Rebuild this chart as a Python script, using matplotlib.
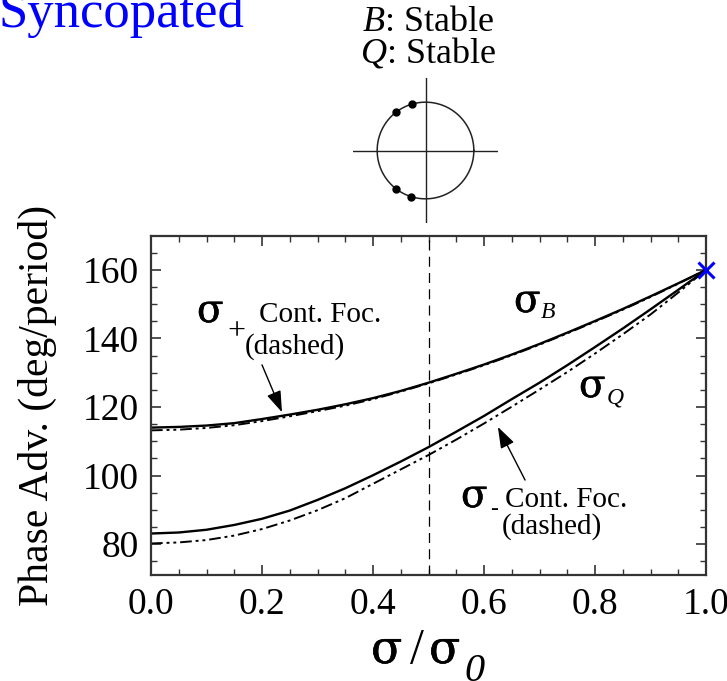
import numpy as np
import matplotlib
matplotlib.use("Agg")
import matplotlib.pyplot as plt
import matplotlib.patheffects as pe

plt.rcParams['font.family'] = ['Liberation Serif', 'DejaVu Serif']
plt.rcParams['mathtext.fontset'] = 'custom'
plt.rcParams['mathtext.rm'] = 'Liberation Serif'
plt.rcParams['mathtext.it'] = 'Liberation Serif:italic'
plt.rcParams['mathtext.bf'] = 'Liberation Serif:bold'

# ---- data ----
x_vals = [0.0, 0.05, 0.1, 0.15, 0.2, 0.25, 0.3, 0.35, 0.4, 0.45, 0.5,
          0.55, 0.6, 0.65, 0.7, 0.75, 0.8, 0.85, 0.9, 0.95, 1.0]
sigma_B = [114.0, 114.2, 114.6, 115.3, 116.5, 117.8, 119.2, 120.8, 122.6, 124.7, 127.1,
           129.7, 132.4, 135.3, 138.4, 141.7, 145.1, 148.6, 152.3, 156.1, 160.0]
sigma_plus_cf = [113.2, 113.4, 113.9, 114.7, 115.9, 117.3, 118.8, 120.4, 122.3, 124.5, 126.9,
                 129.5, 132.2, 135.1, 138.2, 141.5, 144.9, 148.4, 152.1, 156.0, 160.0]
sigma_Q = [83.1, 83.4, 84.2, 85.6, 87.4, 89.8, 92.9, 96.3, 100.1, 104.1, 108.3,
           112.8, 117.4, 122.3, 127.1, 132.2, 137.5, 142.9, 148.5, 154.2, 160.0]
sigma_minus_cf = [80.2, 80.5, 81.2, 82.5, 84.4, 86.9, 89.9, 93.4, 97.6, 101.8, 106.0,
                  110.5, 115.2, 120.1, 125.1, 130.2, 135.6, 141.2, 147.0, 153.4, 160.0]
endpoint = (1.0, 160.0)
vline_x = 0.5
eig_angles_deg = [106, 127, -127, -107]
x_ticks = [0.0, 0.2, 0.4, 0.6, 0.8, 1.0]
y_ticks = [80, 100, 120, 140, 160]

W, H = 727, 681
fig = plt.figure(figsize=(W / 100, H / 100), dpi=100)

def fx(px):
    return px / W

def fy(py):
    return 1 - py / H

# main axes
L, R, T, B = 151, 706, 236, 575
ax = fig.add_axes([fx(L), fy(B), fx(R) - fx(L), fy(T) - fy(B)])
ax.set_xlim(0, 1)
ax.set_ylim(71, 169.9)

dashstyle = (0, (6, 2, 1.5, 2, 1.5, 2))
ax.plot(x_vals, sigma_plus_cf, color='black', lw=1.4, ls=dashstyle)
ax.plot(x_vals, sigma_minus_cf, color='black', lw=1.4, ls=dashstyle)
ax.plot(x_vals, sigma_B, color='black', lw=1.7)
ax.plot(x_vals, sigma_Q, color='black', lw=1.7)
ax.axvline(vline_x, color='black', lw=0.9, ls=(0, (8, 5)))
ax.plot([endpoint[0]], [endpoint[1]], marker='x', color='blue', ms=11, mew=2.2,
        clip_on=False, zorder=5)

ax.set_xticks(x_ticks)
ax.set_xticklabels([f"{v:.1f}" for v in x_ticks])
ax.set_yticks(y_ticks)
ax.set_xticks(np.arange(0, 1.0001, 0.05), minor=True)
ax.set_yticks(np.arange(75, 170, 5), minor=True)
ax.tick_params(which='both', direction='in', top=True, right=True, labelsize=27,
               color='#333333')
ax.tick_params(which='major', length=7, width=1.2, pad=9)
ax.tick_params(which='minor', length=4, width=1.0)
for s in ax.spines.values():
    s.set_linewidth(1.6)
    s.set_color('#333333')

ax.set_ylabel('Phase Adv. (deg/period)', fontsize=30)
ax.yaxis.set_label_coords(-0.169, 0.5)

# annotations (figure pixel positions)
def ftext(px, py, s, size, **kw):
    fig.text(fx(px), fy(py), s, fontsize=size, ha='left', va='baseline', **kw)

SIG = 'DejaVu Serif'
heavy = [pe.withStroke(linewidth=0.4, foreground='black')]

# x label: sigma / sigma_0
ftext(371, 663, 'σ', 33, family=SIG, path_effects=heavy)
ftext(410, 663, '/', 36)
ftext(429, 663, 'σ', 33, family=SIG, path_effects=heavy)
ftext(464, 681, '0', 29, style='italic')

ftext(197, 322, 'σ', 28, family=SIG, path_effects=heavy)
ftext(227, 339, '+', 23)
ftext(259, 322, 'Cont. Foc.', 21)
ftext(245, 354, '(dashed)', 21)
ax.annotate('', xy=(0.236, 118.5), xytext=(0.2, 132.3),
            arrowprops=dict(arrowstyle='-|>,head_length=1.3,head_width=0.45',
                            color='black', lw=1.0, shrinkA=0, shrinkB=0))

ftext(514, 312, 'σ', 28, family=SIG, path_effects=heavy)
ftext(541, 318, 'B', 17, style='italic')
ftext(579, 397, 'σ', 28, family=SIG, path_effects=heavy)
ftext(607, 403, 'Q', 17, style='italic')

ftext(461, 507, 'σ', 28, family=SIG, path_effects=heavy)
ftext(490, 515, '-', 17)
ftext(505, 507, 'Cont. Foc.', 21)
ftext(502, 534, '(dashed)', 21)
ax.annotate('', xy=(0.625, 114.2), xytext=(0.674, 98.7),
            arrowprops=dict(arrowstyle='-|>,head_length=1.3,head_width=0.45',
                            color='black', lw=1.0, shrinkA=0, shrinkB=0))

# title
fig.text(fx(-1), fy(27), 'Syncopated', color='blue', fontsize=38,
         ha='left', va='baseline')
fig.text(fx(428), fy(31), r'$B$: Stable', fontsize=26, ha='center', va='baseline')
fig.text(fx(428), fy(63), r'$Q$: Stable', fontsize=26, ha='center', va='baseline')

# inset circle
iax = fig.add_axes([fx(353), fy(223), fx(498) - fx(353), fy(78) - fy(223)])
iax.set_xlim(-1.5, 1.5)
iax.set_ylim(-1.5, 1.5)
iax.set_aspect('equal')
iax.axis('off')
th = np.linspace(0, 2 * np.pi, 300)
iax.plot(np.cos(th), np.sin(th), color='#222222', lw=1.1)
iax.plot([-1.5, 1.5], [0, 0], color='#222222', lw=1.0)
iax.plot([0, 0], [-1.5, 1.5], color='#222222', lw=1.0)
ang = np.deg2rad(eig_angles_deg)
iax.plot(np.cos(ang), np.sin(ang), 'o', color='black', ms=5)

fig.savefig('out.png', dpi=100)
